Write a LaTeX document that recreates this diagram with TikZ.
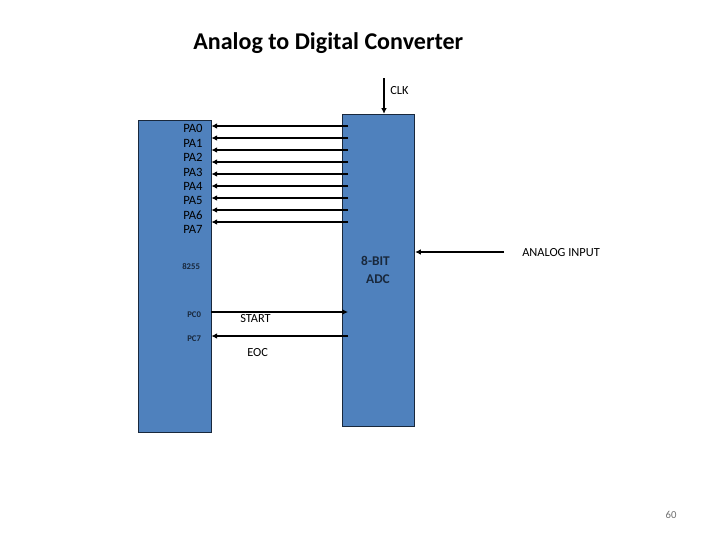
\documentclass[tikz,border=0pt]{standalone}
\usepackage{fontspec}
\setmainfont{Carlito}
\usepackage{tikz}
\usetikzlibrary{arrows.meta, positioning, calc}
\usepackage{xcolor}
\definecolor{chipblue}{RGB}{79,129,189}
\definecolor{chipedge}{RGB}{25,40,60}
\definecolor{muted}{RGB}{110,110,110}
\tikzset{
  chip/.style={draw=chipedge, fill=chipblue, line width=0.6pt, minimum width=1.81cm, minimum height=7.8cm, inner sep=0pt},
  wire/.style={-{Latex[length=4pt,width=4pt]}, line width=1.25pt},
  pin/.style={font=\fontsize{9}{10}\selectfont, anchor=west, inner sep=0pt},
  smallpin/.style={font=\fontsize{6.2}{8}\selectfont\bfseries, text=chipedge, anchor=west, inner sep=0pt},
  lbl/.style={font=\fontsize{8.8}{10}\selectfont, anchor=west, inner sep=0pt}
}
\begin{document}
\begin{tikzpicture}[x=0.025cm, y=-0.025cm]
  \useasboundingbox (0,0) rectangle (720,540);
  \node[font=\fontsize{17.1}{20}\selectfont\bfseries, anchor=west, inner sep=0pt] (title) at (193,43) {Analog to Digital Converter};
  % The two chips
  \node[chip] (ppi) at (174.75,276.25) {};
  \node[chip] (adc) at (378.5,270.25) {};
  % Port A pins
  \node[pin] (pa0) at (183,128.5) {PA0};
  \node[pin] (pa1) at (183,143) {PA1};
  \node[pin] (pa2) at (183,157.5) {PA2};
  \node[pin] (pa3) at (183,172) {PA3};
  \node[pin] (pa4) at (183,186) {PA4};
  \node[pin] (pa5) at (183,200.5) {PA5};
  \node[pin] (pa6) at (183,215) {PA6};
  \node[pin] (pa7) at (183,229.5) {PA7};
  \node[smallpin] (ppiname) at (182,267) {8255};
  \node[smallpin] (pc0) at (187,315) {PC0};
  \node[smallpin] (pc7) at (187,339) {PC7};
  % Data lines
  \coordinate (d0) at (348,126);
  \coordinate (d1) at (348,138);
  \coordinate (d2) at (348,150);
  \coordinate (d3) at (348,162);
  \coordinate (d4) at (348,174);
  \coordinate (d5) at (348,186);
  \coordinate (d6) at (348,198);
  \coordinate (d7) at (348,210);
  \coordinate (d8) at (348,222);
  \draw[wire] (d0) -- (d0 -| ppi.east);
  \draw[wire] (d1) -- (d1 -| ppi.east);
  \draw[wire] (d2) -- (d2 -| ppi.east);
  \draw[wire] (d3) -- (d3 -| ppi.east);
  \draw[wire] (d4) -- (d4 -| ppi.east);
  \draw[wire] (d5) -- (d5 -| ppi.east);
  \draw[wire] (d6) -- (d6 -| ppi.east);
  \draw[wire] (d7) -- (d7 -| ppi.east);
  \draw[wire] (d8) -- (d8 -| ppi.east);
  % Handshake
  \coordinate (startend) at (348,312);
  \coordinate (eocend) at (348,336);
  \draw[wire] (startend -| ppi.east) -- (startend);
  \draw[wire] (eocend) -- (eocend -| ppi.east);
  \node[lbl] (start) at (240,319) {START};
  \node[lbl] (eoc) at (247,353) {EOC};
  % Clock and analog side
  \coordinate (clkend) at (384,78);
  \coordinate (anaend) at (504,252);
  \draw[wire] (clkend) -- (clkend |- adc.north);
  \draw[wire] (anaend) -- (anaend -| adc.east);
  \node[lbl] (clk) at (390,91) {CLK};
  \node[lbl] (analog) at (522,253) {ANALOG INPUT};
  \node[font=\fontsize{9.5}{11}\selectfont\bfseries, text=chipedge, inner sep=0pt] (adcname1) at (375.5,261) {8-BIT};
  \node[font=\fontsize{9.5}{11}\selectfont\bfseries, text=chipedge, inner sep=0pt] (adcname2) at (378,279) {ADC};
  \node[font=\fontsize{7.6}{9}\selectfont, text=muted, inner sep=0pt] (pageno) at (671,515) {60};
\end{tikzpicture}
\end{document}
